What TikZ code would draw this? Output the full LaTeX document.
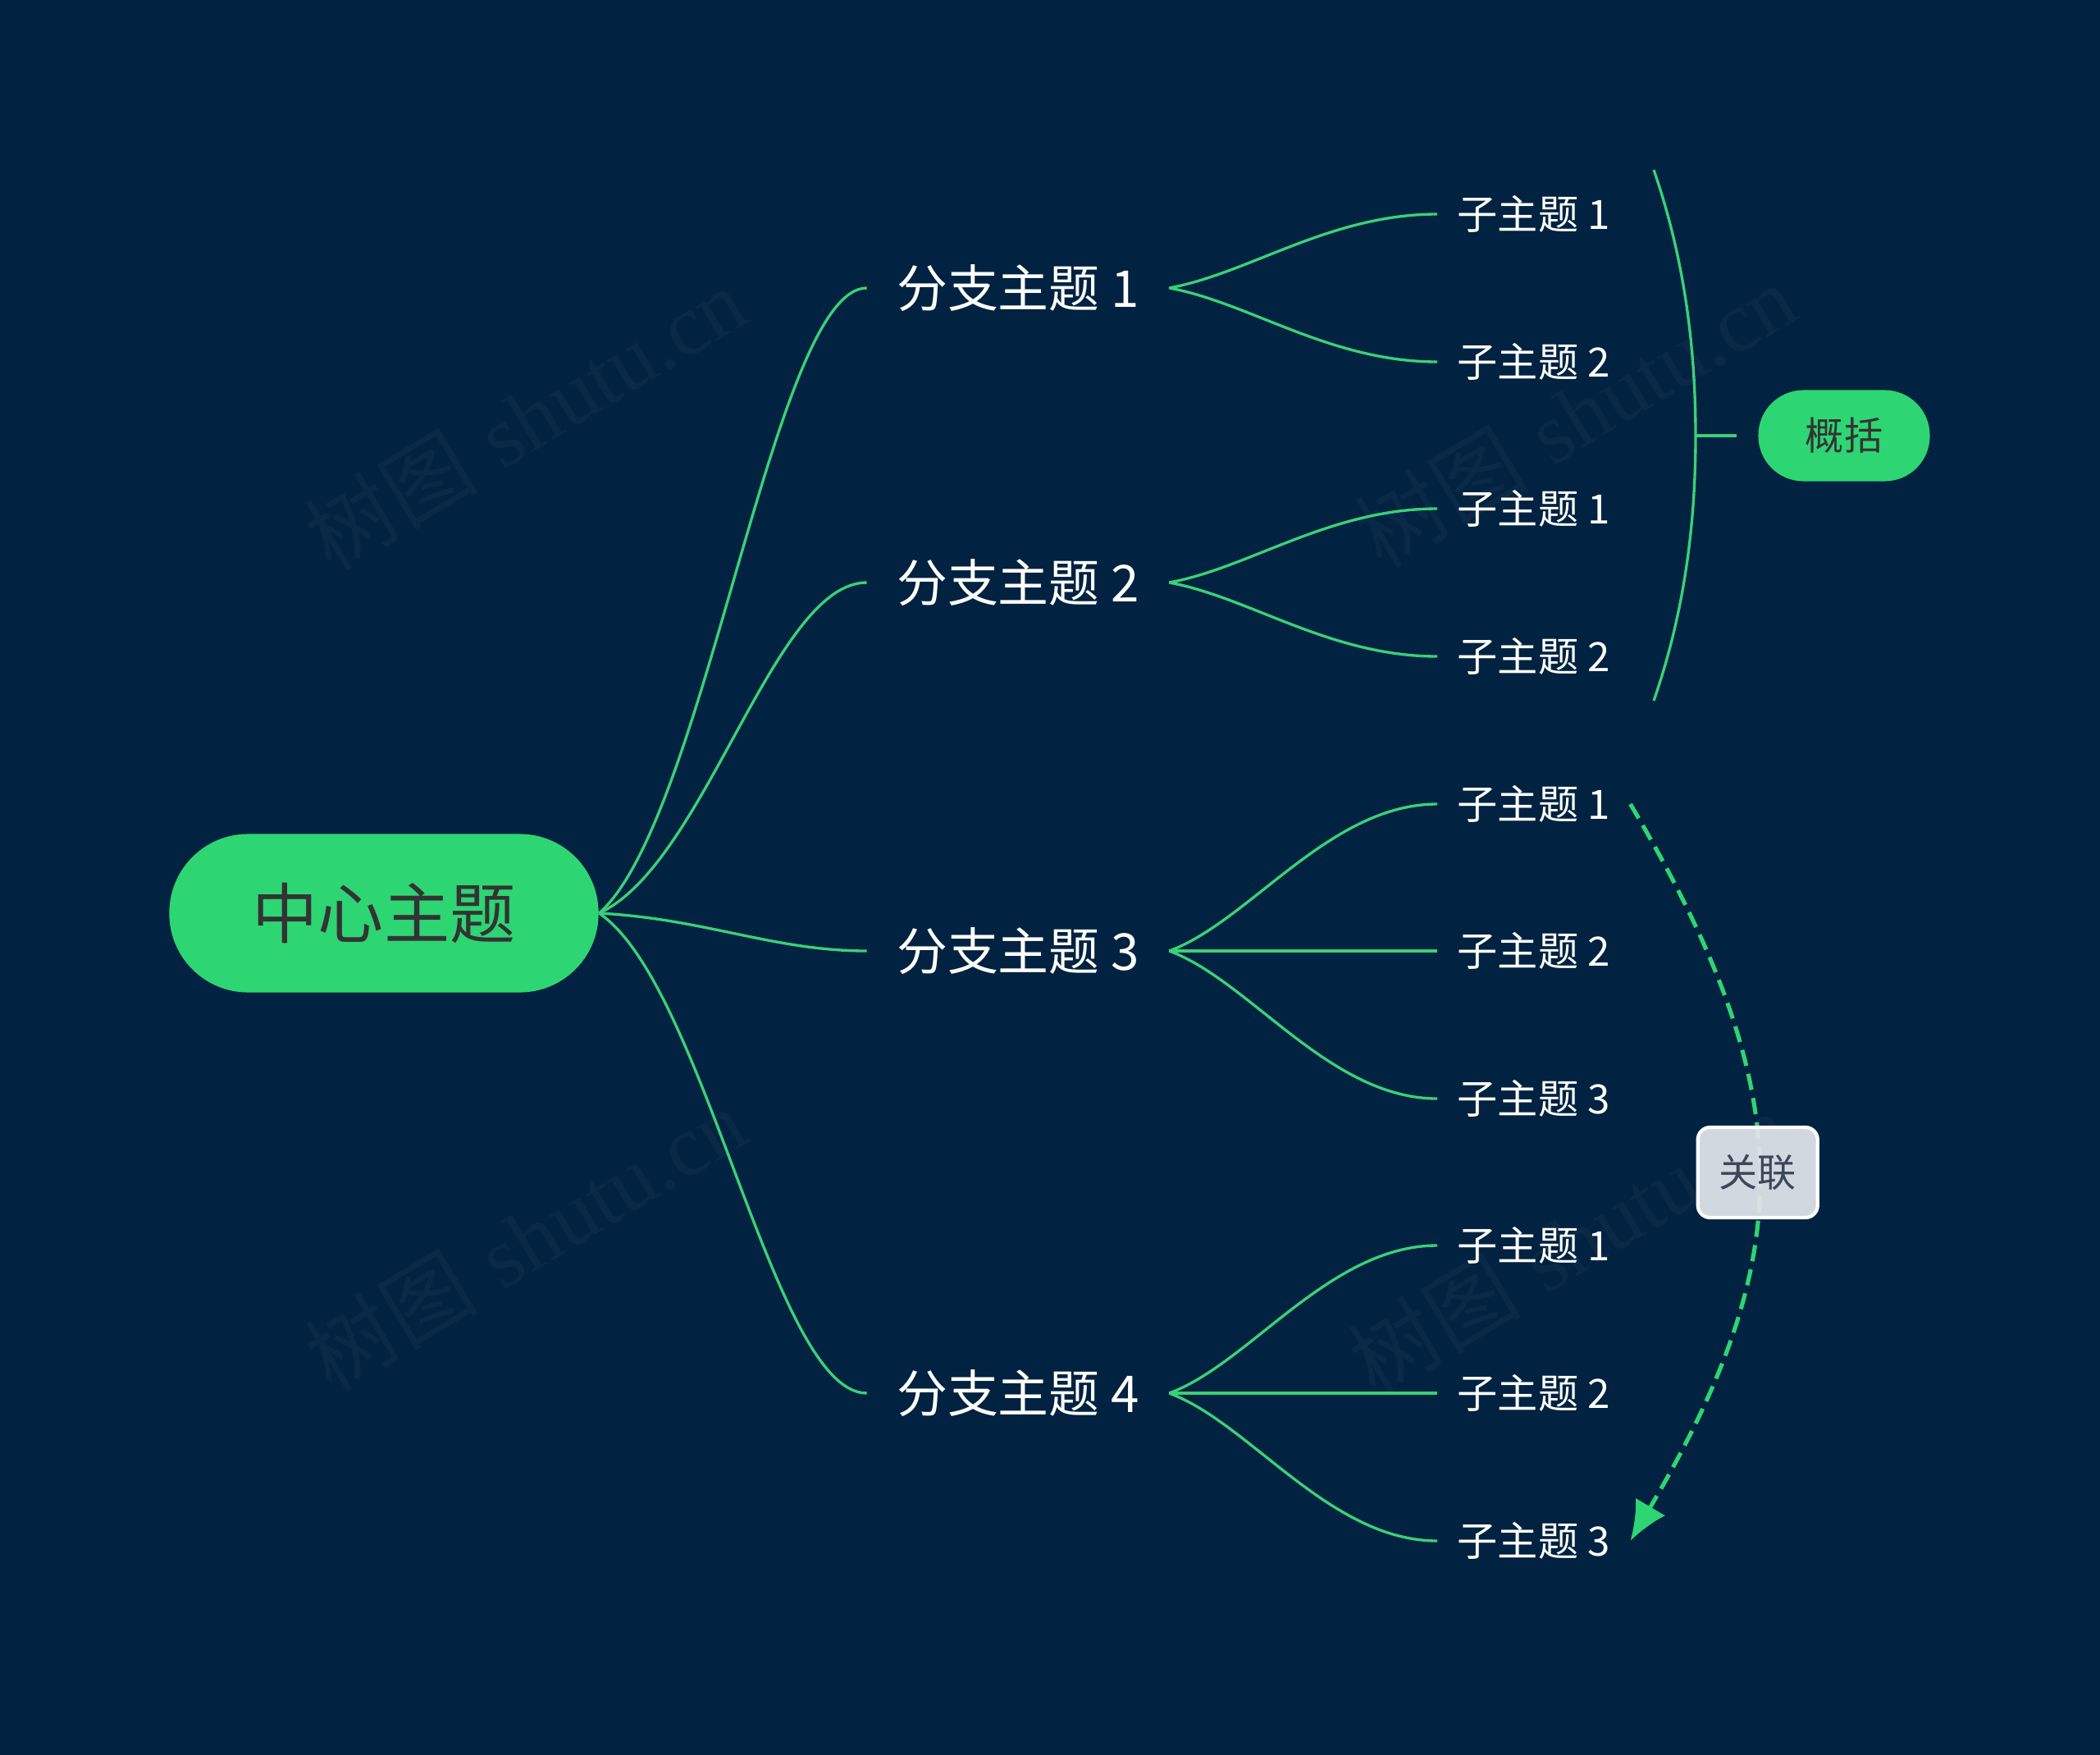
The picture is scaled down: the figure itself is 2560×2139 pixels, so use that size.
\documentclass[tikz,border=0pt]{standalone}
\usepackage{fontspec}
\newfontfamily\cjk{Noto Sans CJK SC}
\newfontfamily\wmserif{Liberation Serif}
\usetikzlibrary{arrows.meta}
\definecolor{bg}{RGB}{1,34,64}
\definecolor{mgreen}{RGB}{46,213,115}
\definecolor{wiregreen}{RGB}{58,208,120}
\definecolor{ink}{RGB}{51,51,51}
\definecolor{tagfill}{RGB}{226,230,236}
\definecolor{tagink}{RGB}{60,72,88}

\begin{document}
\begin{tikzpicture}[x=0.01cm, y=-0.01cm,
    root/.style={rectangle, rounded corners=0.96cm, fill=mgreen, minimum width=5.23cm, minimum height=1.93cm, text=ink, font=\cjk\fontsize{22.8pt}{26pt}\selectfont},
    branch/.style={minimum width=3.67cm, inner sep=0pt, text=white, font=\cjk\fontsize{17.6pt}{21pt}\selectfont},
    sub/.style={anchor=west, inner xsep=0.24cm, inner ysep=0pt, text=white, font=\cjk\fontsize{14pt}{17pt}\selectfont},
    summary/.style={rectangle, rounded corners=0.55cm, fill=mgreen, minimum width=2.09cm, minimum height=1.11cm, text=ink, font=\cjk\fontsize{13.4pt}{16pt}\selectfont},
    tag/.style={rectangle, solid, rounded corners=0.15cm, fill=tagfill, fill opacity=0.93, text opacity=1, draw=white, line width=1.2pt, minimum width=1.46cm, minimum height=1.1cm, text=tagink, font=\cjk\fontsize{13.4pt}{16pt}\selectfont},
    wire/.style={draw=wiregreen, line width=0.95pt},
    rel/.style={draw=mgreen, line width=1.45pt, dash pattern=on 0.2cm off 0.1cm, -{Latex[length=0.48cm, width=0.42cm]}},
    wm/.style={text=white, text opacity=0.035, font=\fontsize{30pt}{34pt}\selectfont}
]
    \useasboundingbox (0,0) rectangle (2560,2139);
    \fill[bg] (0,0) rectangle (2560,2139);

    \node[wm, rotate=31] (wm1) at (640,510) {{\cjk 树图} {\wmserif shutu.cn}};
    \node[wm, rotate=31] (wm2) at (640,1510) {{\cjk 树图} {\wmserif shutu.cn}};
    \node[wm, rotate=31] (wm3) at (1920,506) {{\cjk 树图} {\wmserif shutu.cn}};
    \node[wm, rotate=31] (wm4) at (1912,1515) {{\cjk 树图} {\wmserif shutu.cn}};

    \node[root] (c) at (468,1113) {中心主题};

    \node[branch] (b1) at (1241,351) {分支主题 1};
    \node[branch] (b2) at (1241,710) {分支主题 2};
    \node[branch] (b3) at (1241,1159) {分支主题 3};
    \node[branch] (b4) at (1241,1698) {分支主题 4};

    \node[sub] (b1s1) at (1752,261) {子主题 1};
    \node[sub] (b1s2) at (1752,441) {子主题 2};
    \node[sub] (b2s1) at (1752,620) {子主题 1};
    \node[sub] (b2s2) at (1752,800) {子主题 2};
    \node[sub] (b3s1) at (1752,980) {子主题 1};
    \node[sub] (b3s2) at (1752,1159) {子主题 2};
    \node[sub] (b3s3) at (1752,1339) {子主题 3};
    \node[sub] (b4s1) at (1752,1518) {子主题 1};
    \node[sub] (b4s2) at (1752,1698) {子主题 2};
    \node[sub] (b4s3) at (1752,1878) {子主题 3};

    \node[summary] (sum) at (2248,531) {概括};

    \draw[wire] (c.east) .. controls +(130,-114) and +(-114,0) .. (b1.west);
    \draw[wire] (c.east) .. controls +(130,-60) and +(-114,0) .. (b2.west);
    \draw[wire] (c.east) .. controls +(130,7) and +(-114,0) .. (b3.west);
    \draw[wire] (c.east) .. controls +(130,88) and +(-114,0) .. (b4.west);

    \draw[wire] (b1.east) .. controls +(98,-18) and +(-131,0) .. (b1s1.west);
    \draw[wire] (b1.east) .. controls +(98,18) and +(-131,0) .. (b1s2.west);
    \draw[wire] (b2.east) .. controls +(98,-18) and +(-131,0) .. (b2s1.west);
    \draw[wire] (b2.east) .. controls +(98,18) and +(-131,0) .. (b2s2.west);
    \draw[wire] (b3.east) .. controls +(98,-36) and +(-131,0) .. (b3s1.west);
    \draw[wire] (b3.east) -- (b3s2.west);
    \draw[wire] (b3.east) .. controls +(98,36) and +(-131,0) .. (b3s3.west);
    \draw[wire] (b4.east) .. controls +(98,-36) and +(-131,0) .. (b4s1.west);
    \draw[wire] (b4.east) -- (b4s2.west);
    \draw[wire] (b4.east) .. controls +(98,36) and +(-131,0) .. (b4s3.west);

    \coordinate (sumtop) at (2016,207);
    \coordinate (summid) at (2067,531);
    \coordinate (sumbot) at (2016,854);
    \draw[wire] (sumtop) .. controls (2055,320) and (2067,430) .. (summid) .. controls (2067,632) and (2055,742) .. (sumbot);
    \draw[wire, shorten >=0.26cm] (summid) -- (sum.west);

    \draw[rel] (b3s1.east) .. controls +(207,350) and +(207,-350) .. node[tag] (link) {关联} (b4s3.east);
\end{tikzpicture}
\end{document}
